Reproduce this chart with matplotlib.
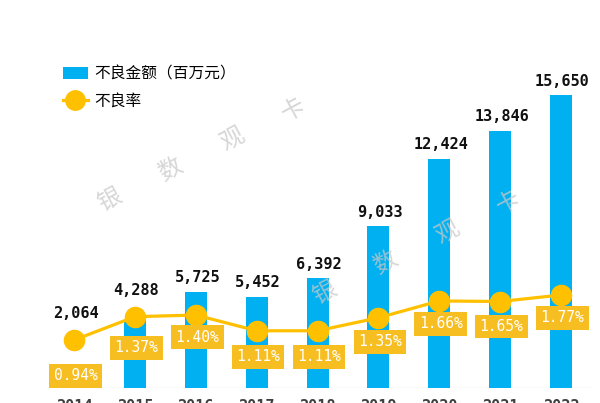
import matplotlib
matplotlib.use('Agg')
import matplotlib.pyplot as plt
from matplotlib.patches import Patch
from matplotlib.lines import Line2D

plt.rcParams['font.family'] = ['Noto Sans CJK SC', 'DejaVu Sans']

# 数据
years = ['2014', '2015', '2016', '2017', '2018', '2019', '2020', '2021', '2022']
npl_amount = [2064, 4288, 5725, 5452, 6392, 9033, 12424, 13846, 15650]  # 百万元
npl_ratio = [0.94, 1.37, 1.40, 1.11, 1.11, 1.35, 1.66, 1.65, 1.77]      # %

# 标签偏移 (像素)
pct_dy = [36, 31, 22, 26, 26, 24, 23, 25, 23]

blue = '#00B0F0'
orange = '#FFC000'

fig = plt.figure(figsize=(6, 4.03), dpi=100)
W, H = 600, 403
ax = fig.add_axes([48 / W, 15 / H, 544 / W, 348 / H])
ax2 = ax.twinx()

x = list(range(len(years)))
bar_colors = ['#2A9D9A'] + [blue] * (len(years) - 1)
ax.bar(x, npl_amount, width=0.36, color=bar_colors, zorder=2)
ax.set_xlim(-0.43, 8.51)
ax.set_ylim(853, 18429)
ax.axhline(853, color='#e3e3e3', lw=1, zorder=1)

ax2.plot(x, npl_ratio, color=orange, lw=2.3, marker='o', ms=14.5,
         mfc=orange, mec=orange, zorder=3)
ax2.set_ylim(0.054, 6.475)

for a in (ax, ax2):
    for s in a.spines.values():
        s.set_visible(False)
    a.set_yticks([])
ax.set_xticks(x)
ax.set_xticklabels(years, fontsize=11, fontweight='bold', color='#404040',
                   family='DejaVu Sans Mono')
ax.tick_params(axis='x', length=0, pad=8)

# 金额标签
for i, v in enumerate(npl_amount):
    bar_top = ax.transData.transform((i, v))[1]
    mk = ax2.transData.transform((i, npl_ratio[i]))[1]
    ly = max(bar_top + 14, mk + 26)
    dy = (ly - bar_top) * 72 / 100
    ax.annotate(f'{v:,}', xy=(i, v), xytext=(1, dy), textcoords='offset points',
                ha='center', va='center', fontsize=11, fontweight='bold',
                family='DejaVu Sans Mono', color='#111111', zorder=5)

# 不良率标签
for i, r in enumerate(npl_ratio):
    ax2.annotate(f'{r:.2f}%', xy=(i, r), xytext=(1, -pct_dy[i] * 0.72),
                 textcoords='offset points', ha='center', va='center',
                 fontsize=10.5, color='white', family='DejaVu Sans Mono',
                 bbox=dict(boxstyle='square,pad=0.3', fc='#F7BE22', ec='none'),
                 zorder=6)

# 水印
wm = ['银', '数', '观', '卡']
for (x0, y0) in [(110, 200), (325, 293)]:
    for k, ch in enumerate(wm):
        fig.text((x0 + 61 * k) / W, 1 - (y0 - 30 * k) / H, ch, fontsize=17,
                 color='#c8c8c8', alpha=0.75, rotation=28, ha='center', va='center')

# 图例
handles = [Patch(facecolor=blue, edgecolor='none'),
           Line2D([0], [0], color=orange, lw=2.3, marker='o', ms=14, mfc=orange, mec=orange)]
fig.legend(handles, ['不良金额（百万元）', '不良率'], loc='upper left',
           bbox_to_anchor=(55 / W, 1 - 58 / H), frameon=False, fontsize=11.3,
           handlelength=1.6, handleheight=0.8, handletextpad=0.4, labelspacing=0.6,
           borderpad=0)

fig.savefig('out.png', dpi=100)
